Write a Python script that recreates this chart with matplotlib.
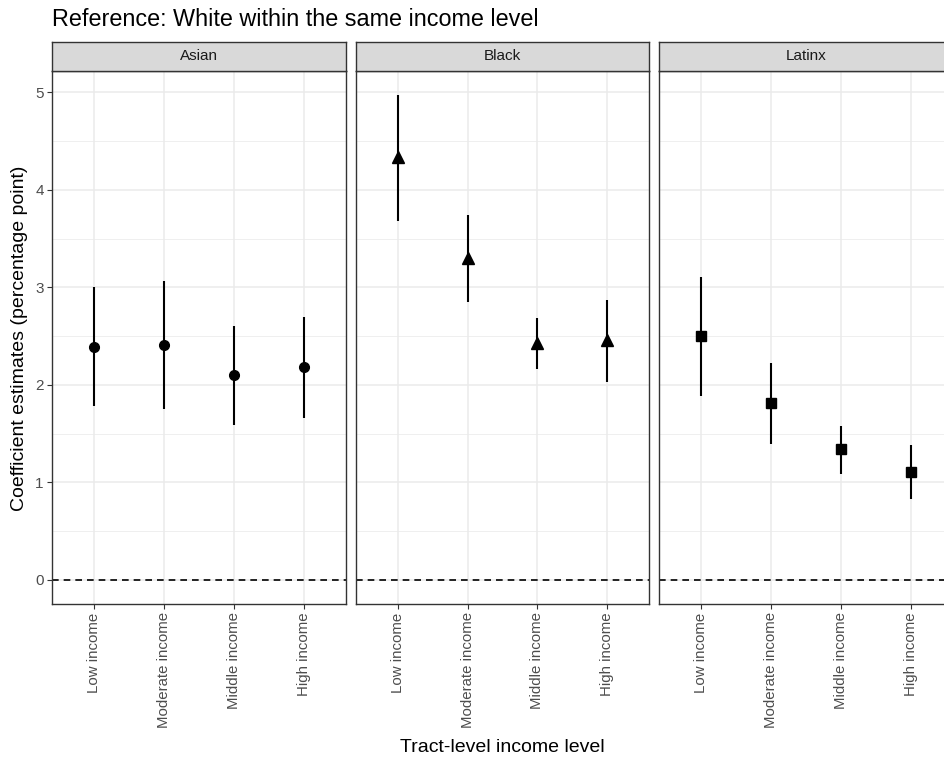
import matplotlib
matplotlib.use("Agg")
import matplotlib.pyplot as plt

plt.rcParams['font.family'] = ['Liberation Sans', 'DejaVu Sans']

# Facets and income categories
groups = ["Asian", "Black", "Latinx"]
income_levels = ["Low income", "Moderate income", "Middle income", "High income"]

# Coefficient estimates with lower/upper interval bounds (percentage points)
asian_est = [2.39, 2.41, 2.10, 2.18]
asian_lo = [1.78, 1.75, 1.59, 1.66]
asian_hi = [3.00, 3.06, 2.60, 2.70]

black_est = [4.34, 3.30, 2.43, 2.46]
black_lo = [3.68, 2.85, 2.16, 2.03]
black_hi = [4.97, 3.74, 2.69, 2.87]

latinx_est = [2.50, 1.81, 1.34, 1.11]
latinx_lo = [1.89, 1.39, 1.09, 0.83]
latinx_hi = [3.11, 2.22, 1.58, 1.38]

estimates = [asian_est, black_est, latinx_est]
lowers = [asian_lo, black_lo, latinx_lo]
uppers = [asian_hi, black_hi, latinx_hi]
markers = [("o", 7.0), ("^", 8.5), ("s", 7.0)]

W, H = 944, 762
fig = plt.figure(figsize=(W / 100, H / 100), dpi=100)

panel_left = [52, 355.7, 659.3]
panel_w = 293.5
panel_top, panel_bot = 71, 604
strip_top = 42

grey20 = "#333333"
tick_col = "#4D4D4D"

ymin, ymax = -0.2485, 5.2185

for i, g in enumerate(groups):
    x0 = panel_left[i]
    ax = fig.add_axes([x0 / W, 1 - panel_bot / H, panel_w / W, (panel_bot - panel_top) / H])
    xs = list(range(1, len(income_levels) + 1))
    ax.set_xlim(0.4, 4.6)
    ax.set_ylim(ymin, ymax)

    # grid
    for y in [0.5, 1.5, 2.5, 3.5, 4.5]:
        ax.axhline(y, color="#EBEBEB", lw=0.55, zorder=0)
    for y in [0, 1, 2, 3, 4, 5]:
        ax.axhline(y, color="#EBEBEB", lw=1.1, zorder=0)
    for x in xs:
        ax.axvline(x, color="#EBEBEB", lw=1.1, zorder=0)

    ax.axhline(0, color="black", lw=1.2, linestyle=(0, (4, 3)), zorder=1)

    ax.vlines(xs, lowers[i], uppers[i], color="black", lw=1.5, zorder=2)
    m, ms = markers[i]
    ax.plot(xs, estimates[i], linestyle="none", marker=m, markersize=ms,
            color="black", zorder=3)

    ax.set_xticks(xs)
    ax.set_xticklabels(income_levels, rotation=90, fontsize=10.8, color=tick_col,
                       va="top", ha="center")
    ax.set_yticks([0, 1, 2, 3, 4, 5])
    if i == 0:
        ax.set_yticklabels(["0", "1", "2", "3", "4", "5"], fontsize=11, color=tick_col)
    else:
        ax.set_yticklabels([])
    ax.tick_params(axis="both", color=grey20, width=0.8, length=3.5, pad=2.5)
    if i > 0:
        ax.tick_params(axis="y", length=0)
    for s in ax.spines.values():
        s.set_color(grey20)
        s.set_linewidth(1.0)

    # facet strip
    sax = fig.add_axes([x0 / W, 1 - panel_top / H, panel_w / W, (panel_top - strip_top) / H])
    sax.set_xticks([])
    sax.set_yticks([])
    sax.set_facecolor("#D9D9D9")
    for s in sax.spines.values():
        s.set_color(grey20)
        s.set_linewidth(1.0)
    sax.text(0.5, 0.5, g, transform=sax.transAxes, ha="center", va="center",
             fontsize=11, color="#1A1A1A")

fig.text(52 / W, 1 - 19 / H, "Reference: White within the same income level",
         fontsize=16.8, ha="left", va="center", color="black")
fig.text(20 / W, 1 - 338 / H, "Coefficient estimates (percentage point)",
         rotation=90, fontsize=14, ha="center", va="center", color="black")
fig.text(502 / W, 1 - 748 / H, "Tract-level income level",
         fontsize=14, ha="center", va="center", color="black")

fig.savefig("out.png", dpi=100)
